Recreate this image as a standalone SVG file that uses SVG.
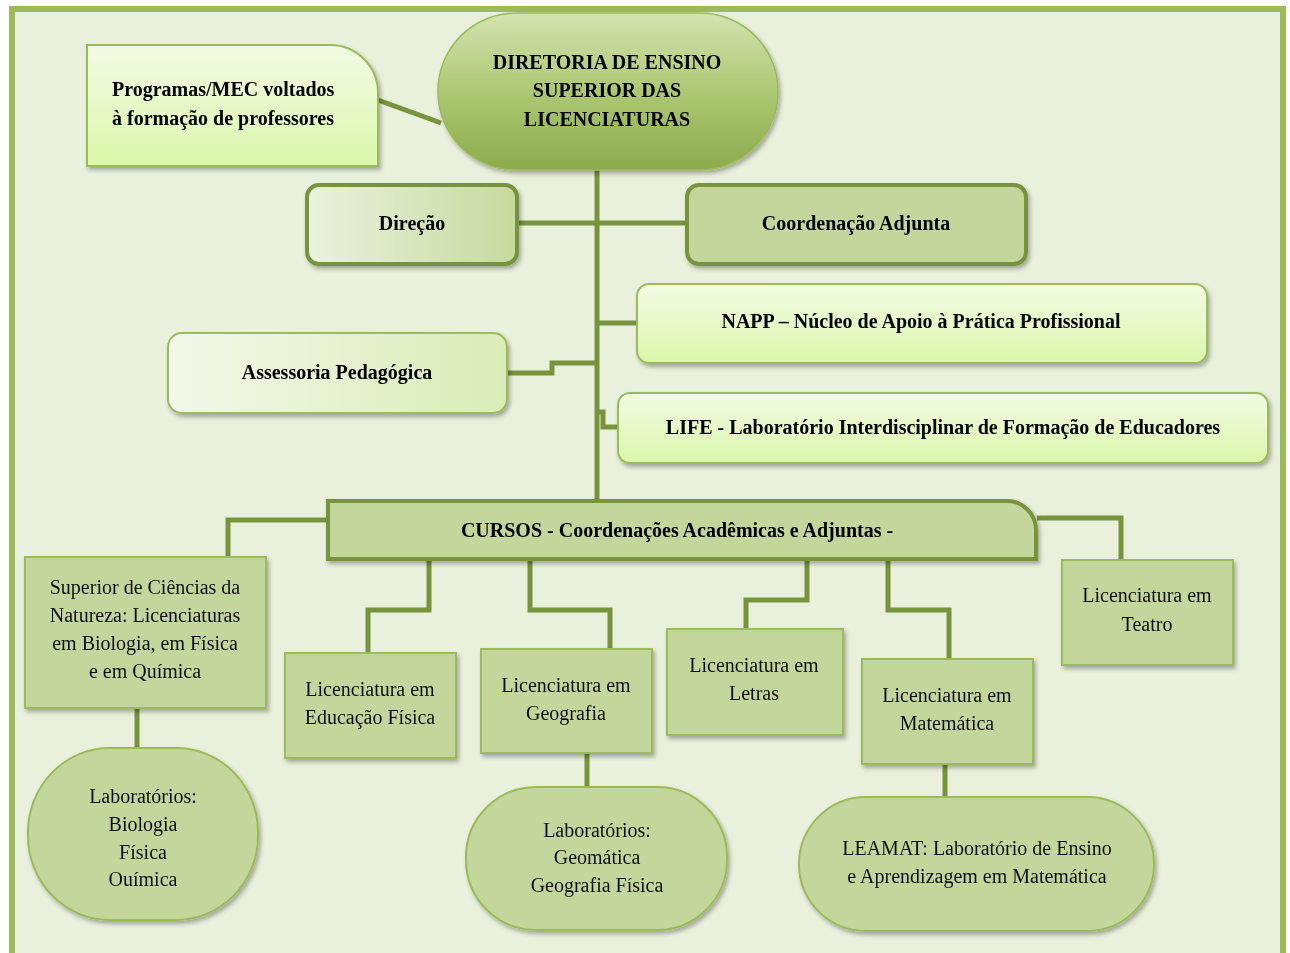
<svg xmlns="http://www.w3.org/2000/svg" width="1290" height="953" viewBox="0 0 1290 953">
<defs>
<style>
text{font-family:'Liberation Serif','Times New Roman',serif}
.b{font-weight:bold;font-size:20px;fill:#000;text-anchor:middle}
.r{font-size:20px;fill:#111;text-anchor:middle}
.c{fill:none;stroke:#77933c;stroke-width:5;stroke-linejoin:miter}
.box{fill:#c3d69b;stroke:#9bbb59;stroke-width:2}
.dk{stroke:#77933c;stroke-width:4}
</style>
<filter id="sh" x="-10%" y="-10%" width="125%" height="130%">
<feDropShadow dx="2" dy="3" stdDeviation="2" flood-color="#000" flood-opacity="0.3"/>
</filter>
<linearGradient id="gTop" x1="0" y1="0" x2="0" y2="1">
<stop offset="0" stop-color="#d3e3b0"/>
<stop offset="0.5" stop-color="#adc873"/>
<stop offset="1" stop-color="#8cab4c"/>
</linearGradient>
<linearGradient id="gProg" x1="0" y1="0" x2="0" y2="1">
<stop offset="0" stop-color="#f2fbe4"/>
<stop offset="1" stop-color="#dcf7ab"/>
</linearGradient>
<linearGradient id="gLR" x1="0" y1="0" x2="1" y2="0">
<stop offset="0" stop-color="#f3f8ea"/>
<stop offset="1" stop-color="#daecb6"/>
</linearGradient>
<linearGradient id="gDir" x1="0" y1="0" x2="1" y2="0">
<stop offset="0" stop-color="#eaf2de"/>
<stop offset="1" stop-color="#c6da9e"/>
</linearGradient>
</defs>
<rect x="0" y="0" width="1290" height="953" fill="#fff"/>
<path d="M12,953 V9 H1283 V953" fill="#e9f0dc" stroke="#9bbb59" stroke-width="6"/>

<g id="connectors">
<path class="c" d="M378,100 L441,123"/>
<path class="c" d="M597,165 V502"/>
<path class="c" d="M518,223 H686"/>
<path class="c" d="M597,323 H637"/>
<path class="c" d="M507,373 H552 V363 H597"/>
<path class="c" d="M597,412 H603 V427 H618"/>
<path class="c" d="M327,520 H228 V557"/>
<path class="c" d="M1037,518 H1121 V560"/>
<path class="c" d="M429,560 V610 H368 V653"/>
<path class="c" d="M530,560 V610 H610 V649"/>
<path class="c" d="M807,560 V600 H746 V629"/>
<path class="c" d="M888,560 V610 H949 V659"/>
<path class="c" d="M137,708 V748"/>
<path class="c" d="M587,753 V787"/>
<path class="c" d="M945,764 V797"/>
</g>

<g id="programas" filter="url(#sh)">
<path d="M87,45 H330 A48,48 0 0 1 378,93 V166 H87 Z" fill="url(#gProg)" stroke="#9bbb59" stroke-width="2"/>
<text class="b" x="112" y="96" style="text-anchor:start">Programas/MEC voltados</text>
<text class="b" x="112" y="125" style="text-anchor:start">à formação de professores</text>
</g>

<g id="diretoria" filter="url(#sh)">
<rect x="438" y="13" width="340" height="157" rx="78" ry="78" fill="url(#gTop)" stroke="#9bbb59" stroke-width="1.5"/>
<text class="b" x="607" y="69">DIRETORIA DE ENSINO</text>
<text class="b" x="607" y="97">SUPERIOR DAS</text>
<text class="b" x="607" y="126">LICENCIATURAS</text>
</g>

<g id="direcao" filter="url(#sh)">
<rect x="307" y="185" width="210" height="79" rx="12" fill="url(#gDir)" class="dk"/>
<text class="b" x="412" y="230">Direção</text>
</g>

<g id="coordenacao" filter="url(#sh)">
<rect x="687" y="185" width="339" height="79" rx="12" fill="#c3d69b" class="dk"/>
<text class="b" x="856" y="230">Coordenação Adjunta</text>
</g>

<g id="napp" filter="url(#sh)">
<rect x="637" y="284" width="570" height="79" rx="12" fill="url(#gProg)" stroke="#9bbb59" stroke-width="2"/>
<text class="b" x="921" y="328">NAPP – Núcleo de Apoio à Prática Profissional</text>
</g>

<g id="assessoria" filter="url(#sh)">
<rect x="168" y="333" width="339" height="80" rx="14" fill="url(#gLR)" stroke="#9bbb59" stroke-width="2"/>
<text class="b" x="337" y="379">Assessoria Pedagógica</text>
</g>

<g id="life" filter="url(#sh)">
<rect x="618" y="393" width="650" height="70" rx="12" fill="url(#gProg)" stroke="#9bbb59" stroke-width="2"/>
<text class="b" x="943" y="434">LIFE - Laboratório Interdisciplinar de Formação de Educadores</text>
</g>

<g id="cursos" filter="url(#sh)">
<path d="M328,501 H1007 A29,29 0 0 1 1036,530 V559 H328 Z" fill="#c3d69b" class="dk"/>
<text class="b" x="677" y="537">CURSOS - Coordenações Acadêmicas e Adjuntas -</text>
</g>

<g id="ciencias" filter="url(#sh)">
<rect x="25" y="557" width="241" height="151" class="box"/>
<text class="r" x="145" y="594">Superior de Ciências da</text>
<text class="r" x="145" y="622">Natureza: Licenciaturas</text>
<text class="r" x="145" y="650">em Biologia, em Física</text>
<text class="r" x="145" y="678">e em Química</text>
</g>

<g id="lab-ciencias" filter="url(#sh)">
<rect x="28" y="748" width="230" height="172" rx="82" ry="84" class="box"/>
<text class="r" x="143" y="803">Laboratórios:</text>
<text class="r" x="143" y="831">Biologia</text>
<text class="r" x="143" y="859">Física</text>
<text class="r" x="143" y="886">Ouímica</text>
</g>

<g id="edfisica" filter="url(#sh)">
<rect x="285" y="653" width="171" height="105" class="box"/>
<text class="r" x="370" y="696">Licenciatura em</text>
<text class="r" x="370" y="724">Educação Física</text>
</g>

<g id="geografia" filter="url(#sh)">
<rect x="481" y="649" width="171" height="104" class="box"/>
<text class="r" x="566" y="692">Licenciatura em</text>
<text class="r" x="566" y="720">Geografia</text>
</g>

<g id="lab-geografia" filter="url(#sh)">
<rect x="466" y="787" width="261" height="143" rx="70" ry="70" class="box"/>
<text class="r" x="597" y="837">Laboratórios:</text>
<text class="r" x="597" y="864">Geomática</text>
<text class="r" x="597" y="892">Geografia Física</text>
</g>

<g id="letras" filter="url(#sh)">
<rect x="667" y="629" width="176" height="106" class="box"/>
<text class="r" x="754" y="672">Licenciatura em</text>
<text class="r" x="754" y="700">Letras</text>
</g>

<g id="matematica" filter="url(#sh)">
<rect x="862" y="659" width="171" height="105" class="box"/>
<text class="r" x="947" y="702">Licenciatura em</text>
<text class="r" x="947" y="730">Matemática</text>
</g>

<g id="leamat" filter="url(#sh)">
<rect x="799" y="797" width="355" height="134" rx="67" ry="67" class="box"/>
<text class="r" x="977" y="855">LEAMAT: Laboratório de Ensino</text>
<text class="r" x="977" y="883">e Aprendizagem em Matemática</text>
</g>

<g id="teatro" filter="url(#sh)">
<rect x="1062" y="560" width="171" height="105" class="box"/>
<text class="r" x="1147" y="602">Licenciatura em</text>
<text class="r" x="1147" y="631">Teatro</text>
</g>
</svg>
